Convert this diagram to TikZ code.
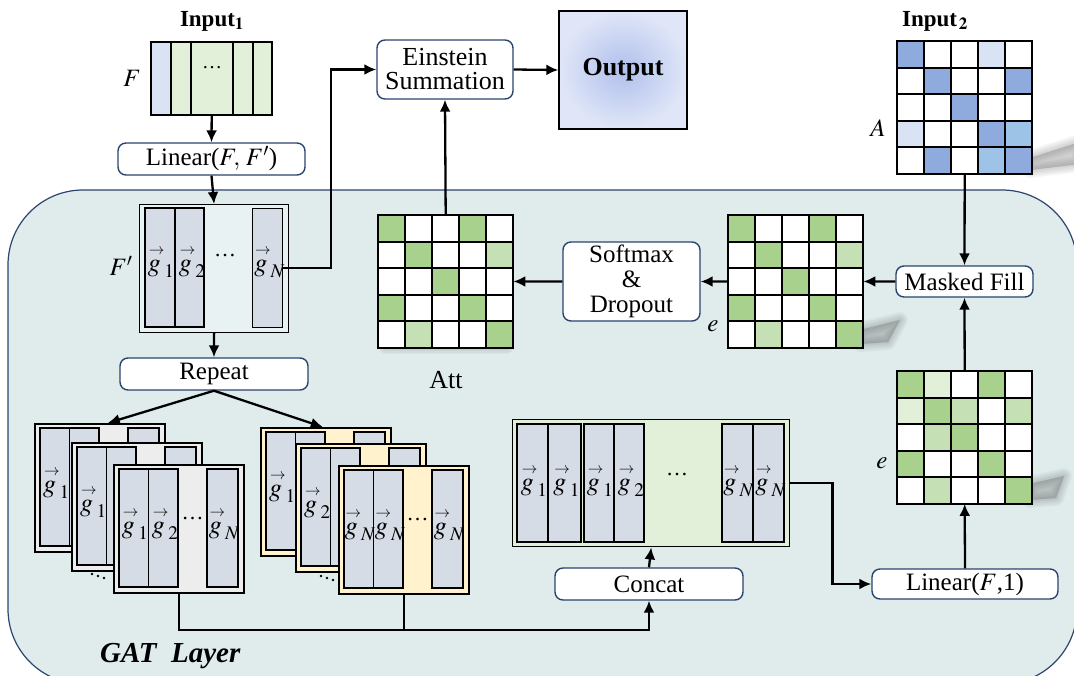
\documentclass[tikz,border=0pt]{standalone}
\usepackage{mathptmx}
\usepackage{amsmath}
\usepackage{fontspec}
\setmainfont{Liberation Serif}
\usetikzlibrary{arrows.meta,calc}

\definecolor{gatbg}{HTML}{E0ECEC}
\definecolor{navy}{HTML}{2B4470}
\definecolor{colg}{HTML}{D6DCE5}
\definecolor{paleblue}{HTML}{DAE3F3}
\definecolor{palegreen}{HTML}{E2EFD9}
\definecolor{cardgrey}{HTML}{EDEDED}
\definecolor{cardyellow}{HTML}{FFF2CC}
\definecolor{mG}{HTML}{A9D18E}
\definecolor{lG}{HTML}{C5E0B4}
\definecolor{vG}{HTML}{E2EFD9}
\definecolor{dB}{HTML}{8FAADC}
\definecolor{lB}{HTML}{DAE3F3}
\definecolor{mB}{HTML}{9DC3E6}
\definecolor{W}{HTML}{FFFFFF}

\tikzset{
  every node/.style={font=\fontsize{25}{28}\selectfont, inner sep=0pt},
  opbox/.style={draw=navy, line width=1.4pt, rounded corners=8pt, fill=white, align=center},
  arr/.style={line width=2.3pt, -{Latex[length=12pt,width=11pt]}},
  conn/.style={line width=2.3pt},
  colbox/.style={draw=black, line width=1.3pt, fill=colg},
  gridline/.style={line width=2pt, line cap=rect},
  glabel/.style={font=\fontsize{26}{28}\selectfont},
  matbox/.style={minimum width=135pt, minimum height=132.5pt, anchor=north west},
  softshadow/.style={fill=black!60, draw=black!60, opacity=0.06, line join=round},
}

% g-vector label: a small thin arrow over an italic g
\newcommand\gv[1]{${\overset{\mkern4mu\scriptscriptstyle\rightarrow}{g}}_{#1}$}

% soft drop shadow: layered translucent copies of a polygon
\newcommand\dropshadow[1]{%
  \foreach \w in {16,13,10,7,4,1} {
    \path[softshadow, line width=\w pt] #1;
  }
}

% 5x5 coloured grid inside a matrix node
\newcommand\cellgrid[2]{%
  \foreach \cl [count=\k from 0] in {#2} {
    \pgfmathtruncatemacro\mrow{\k/5}
    \pgfmathtruncatemacro\mcol{mod(\k,5)}
    \fill[\cl] ($(#1.north west)+(\mcol*27,\mrow*26.5)$) rectangle ++(27,26.5);
  }
  \foreach \i in {0,...,5} {
    \draw[gridline] ($(#1.north west)+(\i*27,0)$) -- ++(0,132.5);
    \draw[gridline] ($(#1.north west)+(0,\i*26.5)$) -- ++(135,0);
  }
}

% frame and columns of a stacked feature card
\newcommand\cardframe[4]{%
  \node[draw=black, line width=1.6pt, fill=#4, minimum width=130pt, minimum height=128pt, anchor=north west] (#1) at (#2,#3) {};
  \draw[colbox] ($(#1.north west)+(6,5)$) rectangle ++(29.5,118);
  \draw[colbox] ($(#1.north west)+(35.5,5)$) rectangle ++(29.5,118);
  \draw[colbox] ($(#1.north west)+(94,5)$) rectangle ++(31,118);
}
% card partly hidden behind the next one: only its first column label shows
\newcommand\backcard[5]{%
  \cardframe{#1}{#2}{#3}{#4}
  \node[glabel] (#1a) at ($(#1.north west)+(20.75,60)$) {\gv{#5}};
}
% front card with all labels
\newcommand\frontcard[7]{%
  \cardframe{#1}{#2}{#3}{#4}
  \node[glabel] (#1a) at ($(#1.north west)+(20.5,60)$) {\gv{#5}};
  \node[glabel] (#1b) at ($(#1.north west)+(50.5,60)$) {\gv{#6}};
  \node[font=\fontsize{22}{24}\selectfont] (#1d) at ($(#1.north west)+(79.5,55)$) {\dots};
  \node[glabel] (#1c) at ($(#1.north west)+(109.5,60)$) {\gv{#7}};
}

\begin{document}
\begin{tikzpicture}[x=1pt,y=-1pt]
\useasboundingbox (0,0) rectangle (1074,675);

% GAT layer panel
\draw[fill=gatbg, draw=navy, line width=1.2pt, rounded corners=75pt] (8,190) rectangle (1077,684);
\node[font=\fontsize{29}{32}\selectfont\bfseries\itshape, anchor=west] (gat) at (100,656) {GAT\ \ Layer};

% ---------- Input 1 ----------
\node[font=\fontsize{23}{25}\selectfont] (t1) at (212,21) {\textbf{Input}$_{\mathbf{1}}$};
\node[minimum width=121pt, minimum height=73pt, anchor=north west] (in1) at (151,42) {};
\draw[line width=1.3pt, fill=paleblue] (151,42) rectangle (171,115);
\draw[line width=1.3pt, fill=palegreen] (171,42) rectangle (191,115);
\draw[line width=1.3pt, fill=palegreen] (191,42) rectangle (233,115);
\draw[line width=1.3pt, fill=palegreen] (233,42) rectangle (253,115);
\draw[line width=1.3pt, fill=palegreen] (253,42) rectangle (272,115);
\node[font=\fontsize{20}{22}\selectfont] (in1d) at (212,68) {\dots};
\node (lF) at (132,78) {$F$};

\node[opbox, minimum width=187pt, minimum height=32pt] (lin1) at (211.5,159) {Linear($F,\,F'$)};

% ---------- F' features ----------
\node[draw=black, line width=1.2pt, fill=gatbg!70!white, minimum width=149pt, minimum height=128pt, anchor=north west] (fp) at (139,204) {};
\draw[colbox] (145,208) rectangle (175,327);
\draw[colbox] (175,208) rectangle (204,327);
\node[colbox, minimum width=30pt, minimum height=119pt, anchor=north west] (fpN) at (252,208) {};
\node[glabel] (fpa) at (159.5,262) {\gv{1}};
\node[glabel] (fpb) at (190.5,262) {\gv{2}};
\node[font=\fontsize{22}{24}\selectfont] (fpd) at (225,256) {\dots};
\node[glabel] (fpc) at (268,262) {\gv{N}};
\node (lFp) at (121,266) {$F'$};

\node[opbox, minimum width=188pt, minimum height=32pt] (rep) at (214,374) {Repeat};

% ---------- repeated feature stacks ----------
\backcard{L1}{34}{423}{cardgrey}{1}
\backcard{L2}{71}{442}{cardgrey}{1}
\frontcard{L3}{113}{464}{cardgrey}{1}{2}{N}
\backcard{R1}{260}{427}{cardyellow}{1}
\backcard{R2}{295}{443}{cardyellow}{2}
\frontcard{R3}{338}{465}{cardyellow}{N}{N}{N}
\foreach \dx/\dy in {0/0,6/2,12/4} {
  \fill (92+\dx,574+\dy) circle (1.4);
  \fill (321+\dx,576+\dy) circle (1.4);
}

% ---------- concatenated pairs ----------
\node[draw=black, line width=1.4pt, fill=palegreen, minimum width=277pt, minimum height=127pt, anchor=north west] (cb) at (512,419) {};
\draw[colbox] (517,424) rectangle (548,542);
\draw[colbox] (548,424) rectangle (581,542);
\draw[colbox] (584,424) rectangle (614,542);
\draw[colbox] (614,424) rectangle (644,542);
\draw[colbox] (722,424) rectangle (753,542);
\draw[colbox] (753,424) rectangle (784,542);
\node[glabel] (cba) at (532.5,481) {\gv{1}};
\node[glabel] (cbb) at (565,481) {\gv{1}};
\node[glabel] (cbc) at (598.5,481) {\gv{1}};
\node[glabel] (cbd) at (629.5,481) {\gv{2}};
\node[font=\fontsize{22}{24}\selectfont] (cbe) at (677,475) {\dots};
\node[glabel] (cbf) at (737,481) {\gv{N}};
\node[glabel] (cbg) at (769,481) {\gv{N}};

\node[opbox, minimum width=188pt, minimum height=32pt] (cc) at (649,584) {Concat};
\node[opbox, minimum width=186pt, minimum height=30pt] (lf1) at (965,584) {Linear($F$,1)};

% ---------- attention matrices ----------
\dropshadow{(1030,500) -- (1030,484) -- (1064,476) -- (1056,498) -- cycle}
\node[matbox] (el) at (897,371) {};
\cellgrid{el}{mG,vG,W,mG,W, vG,mG,lG,W,lG, W,lG,mG,W,W, mG,W,W,mG,W, W,lG,W,W,mG}
\node (le2) at (882,463) {$e$};

\dropshadow{(860,344) -- (860,330) -- (900,320) -- (888,342) -- cycle}
\node[matbox] (eu) at (728,215) {};
\cellgrid{eu}{mG,W,W,mG,W, W,mG,W,W,lG, W,W,mG,W,W, mG,W,W,mG,W, W,lG,W,W,mG}
\node (le1) at (713,326) {$e$};

\dropshadow{(386,344) -- (506,344) -- (506,346) -- (386,346) -- cycle}
\node[matbox] (att) at (378,215) {};
\cellgrid{att}{mG,W,W,mG,W, W,mG,W,W,lG, W,W,mG,W,W, mG,W,W,mG,W, W,lG,W,W,mG}
\node[font=\fontsize{26}{28}\selectfont] (latt) at (446,380) {Att};

\node[opbox, minimum width=137pt, minimum height=79pt] (sm) at (631.5,281.5) {Softmax\\[-3pt]\&\\[-3pt]Dropout};
\node[opbox, minimum width=137pt, minimum height=31pt] (mf) at (964.5,281.5) {Masked Fill};

% ---------- Input 2 ----------
\node[font=\fontsize{23}{25}\selectfont] (t2) at (935,21) {\textbf{Input}$_{\mathbf{\,2}}$};
\dropshadow{(1030,170) -- (1030,158) -- (1080,142) -- (1080,164) -- cycle}
\node[matbox] (in2) at (897,41) {};
\cellgrid{in2}{dB,W,W,lB,W, W,dB,W,W,dB, W,W,dB,W,W, lB,W,W,dB,mB, W,dB,W,mB,dB}
\node (lA) at (878,128) {$A$};

% ---------- top operations ----------
\node[opbox, minimum width=136pt, minimum height=59pt, font=\fontsize{26}{28}\selectfont] (ein) at (445,69.5) {Einstein\\[-4pt]Summation};
\node[draw=black, line width=1.4pt, shading=radial, inner color={rgb,255:red,176;green,192;blue,236}, outer color={rgb,255:red,224;green,230;blue,248}, minimum width=128pt, minimum height=118pt, font=\fontsize{26}{28}\selectfont\bfseries] (out) at (623,70) {Output};

% ---------- connectors ----------
\draw[arr] (in1.south) -- (lin1.north);
\draw[arr] (lin1.south) -- (fp.north);
\draw[arr] (fp.south) -- (rep.north);
\draw[arr] (rep.south) -- ($(L1.north)+(8,0)$);
\draw[arr] (rep.south) -- ($(R1.north)+(-3,0)$);
\draw[arr] (fpN.east) -- ++(48,0) |- (ein.west);
\draw[arr] (ein.east) -- (out.west);
\draw[arr] (att.north) -- (ein.south);
\draw[arr] (in2.south) -- (mf.north);
\draw[arr] (mf.west) -- (eu.east);
\draw[arr] (eu.west) -- (sm.east);
\draw[arr] (sm.west) -- (att.east);
\draw[arr] (el.north) -- (mf.south);
\draw[arr] (lf1.north) -- (el.south);
\draw[arr] (cb.east) -- ++(42,0) |- (lf1.west);
\coordinate (bus) at (0,630);
\draw[arr] (L3.south) |- (bus -| cc.south) -- (cc.south);
\draw[conn] (R3.south) -- (R3.south |- bus);
\draw[arr] (cc.north) -- (cb.south);
\end{tikzpicture}
\end{document}
